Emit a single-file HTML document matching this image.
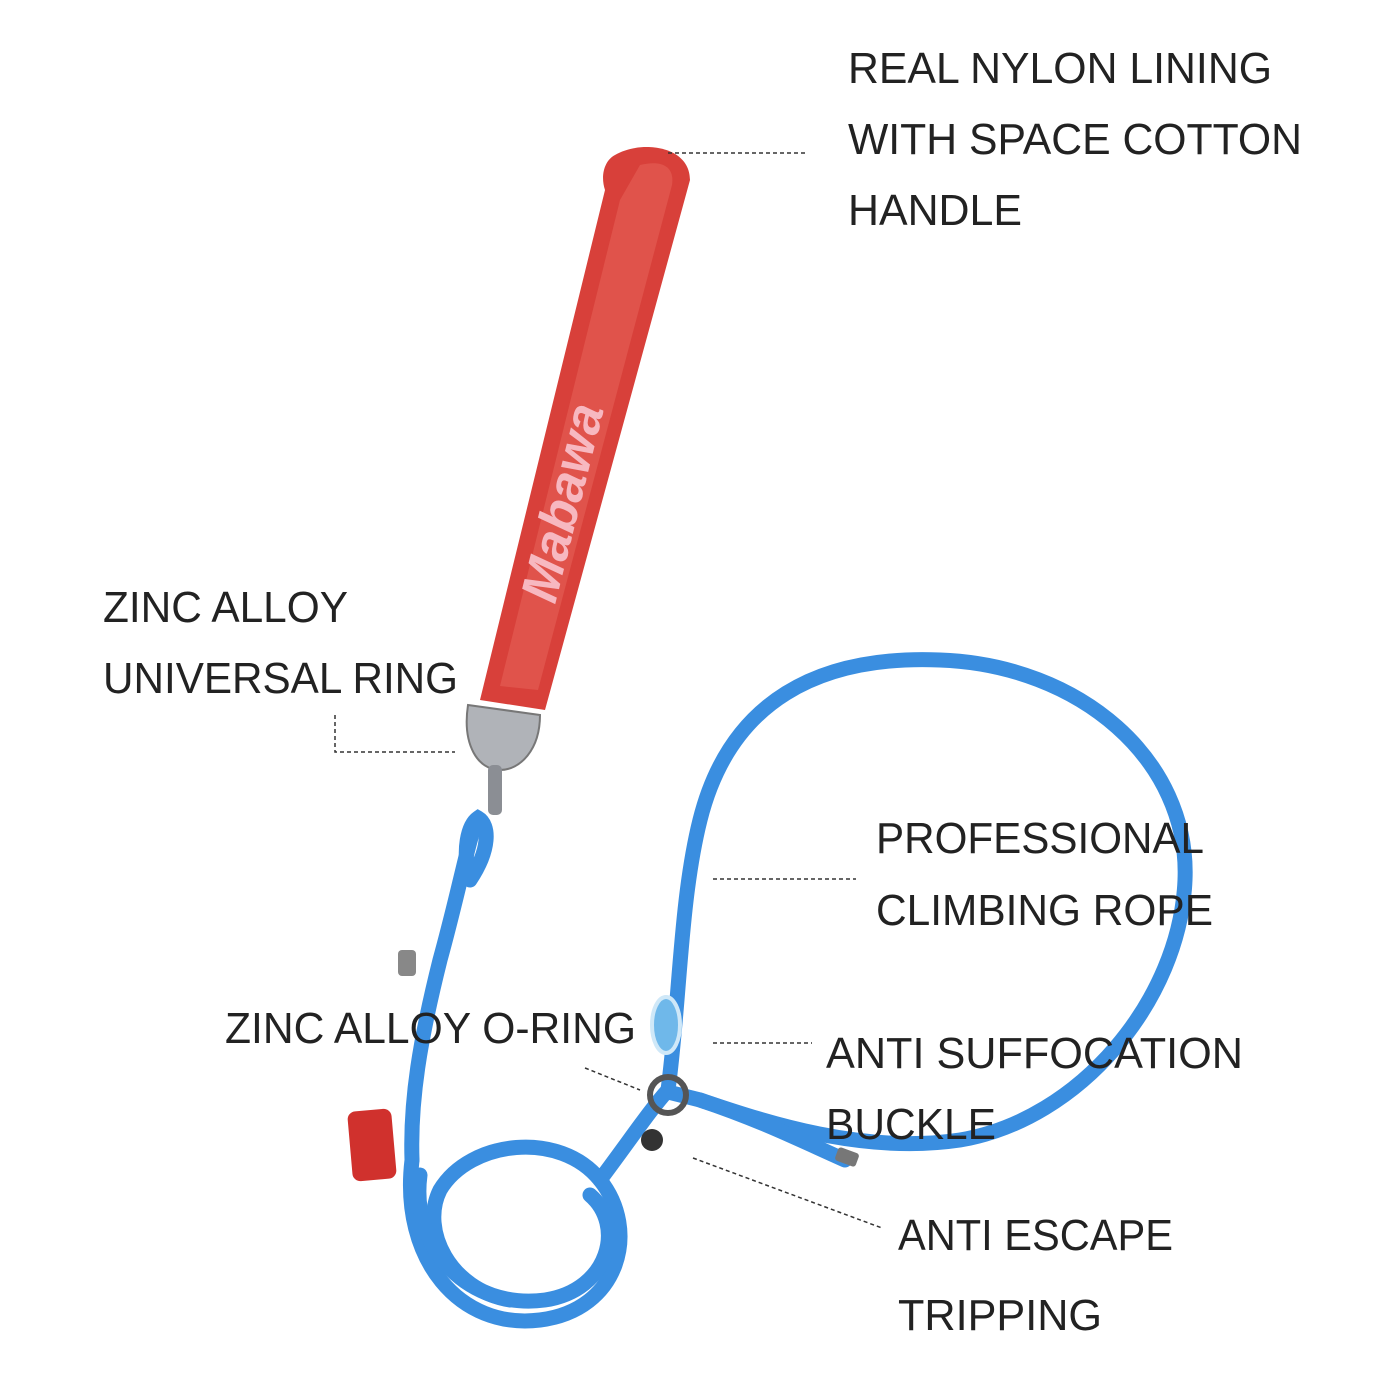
<!DOCTYPE html>
<html><head><meta charset="utf-8"><style>
html,body{margin:0;padding:0;background:#fff;width:1400px;height:1400px;overflow:hidden}
svg{display:block}
.t{font-family:"Liberation Sans",sans-serif;font-size:44px;fill:#222}
.d{stroke:#333;stroke-width:1.5;stroke-dasharray:4 3;fill:none}
</style></head><body>
<svg width="1400" height="1400" viewBox="0 0 1400 1400">
<g fill="none" stroke="#3a8ee0" stroke-width="15" stroke-linecap="round">
<path d="M478 820 C470 830 462 880 440 960 C420 1040 410 1100 412 1160"/>
<path d="M412 1160 C400 1260 460 1330 540 1320 C620 1310 640 1230 600 1180 C560 1130 470 1140 440 1190 C420 1230 450 1290 510 1300"/>
<path d="M420 1175 C410 1250 470 1310 545 1300 C610 1290 625 1225 590 1195"/>
<path d="M600 1180 C630 1140 650 1110 668 1090"/>
<path d="M668 1090 C680 1000 680 900 700 820 C730 700 820 655 940 660 C1080 665 1190 760 1185 880 C1180 1000 1080 1120 960 1140 C860 1155 760 1120 700 1100 L668 1092"/>
<path d="M700 1100 C760 1120 800 1140 845 1160"/>
<path d="M470 880 C462 850 468 825 478 818 C490 825 490 850 470 880"/>
</g>
<ellipse cx="666" cy="1025" rx="14" ry="28" fill="#6fb8ea" stroke="#cfe8f8" stroke-width="4"/>
<circle cx="668" cy="1095" r="18" fill="none" stroke="#555" stroke-width="6"/>
<circle cx="652" cy="1140" r="11" fill="#333"/>
<rect x="398" y="950" width="18" height="26" rx="4" fill="#888"/>
<rect x="836" y="1150" width="22" height="14" rx="3" fill="#777" transform="rotate(20 847 1157)"/>
<rect x="350" y="1110" width="44" height="70" rx="8" fill="#d0312d" transform="rotate(-5 372 1145)"/>
<path d="M468 705 L540 715 C540 750 520 770 500 770 C478 770 462 745 468 705 Z" fill="#b0b3b8" stroke="#777" stroke-width="2"/>
<rect x="488" y="765" width="14" height="50" rx="5" fill="#8b8e94"/>
<path d="M615 155 C640 140 690 145 690 180 L545 710 L480 700 L605 190 C600 175 605 160 615 155 Z" fill="#d8403a"/>
<path d="M640 165 C660 160 675 165 672 185 L538 690 L500 686 L620 200 Z" fill="#e0534b"/>
<text x="0" y="0" font-family="Liberation Sans,sans-serif" font-weight="bold" font-style="italic" font-size="52" fill="#f7b8c0" transform="translate(555 605) rotate(-76)">Mabawa</text>
<path class="d" d="M668 153 H806"/>
<path class="d" d="M335 715 V752 H455"/>
<path class="d" d="M713 879 H856"/>
<path class="d" d="M713 1043 H812"/>
<path class="d" d="M585 1068 L640 1090"/>
<path class="d" d="M693 1158 L882 1228"/>
<text class="t" x="848" y="83" textLength="424" lengthAdjust="spacingAndGlyphs">REAL NYLON LINING</text>
<text class="t" x="848" y="154" textLength="454" lengthAdjust="spacingAndGlyphs">WITH SPACE COTTON</text>
<text class="t" x="848" y="225" textLength="174" lengthAdjust="spacingAndGlyphs">HANDLE</text>
<text class="t" x="103" y="622" textLength="245" lengthAdjust="spacingAndGlyphs">ZINC ALLOY</text>
<text class="t" x="103" y="693" textLength="355" lengthAdjust="spacingAndGlyphs">UNIVERSAL RING</text>
<text class="t" x="876" y="853" textLength="328" lengthAdjust="spacingAndGlyphs">PROFESSIONAL</text>
<text class="t" x="876" y="925" textLength="337" lengthAdjust="spacingAndGlyphs">CLIMBING ROPE</text>
<text class="t" x="225" y="1043" textLength="411" lengthAdjust="spacingAndGlyphs">ZINC ALLOY O-RING</text>
<text class="t" x="826" y="1068" textLength="417" lengthAdjust="spacingAndGlyphs">ANTI SUFFOCATION</text>
<text class="t" x="826" y="1139" textLength="170" lengthAdjust="spacingAndGlyphs">BUCKLE</text>
<text class="t" x="898" y="1250" textLength="275" lengthAdjust="spacingAndGlyphs">ANTI ESCAPE</text>
<text class="t" x="898" y="1330" textLength="204" lengthAdjust="spacingAndGlyphs">TRIPPING</text>
</svg>
</body></html>
